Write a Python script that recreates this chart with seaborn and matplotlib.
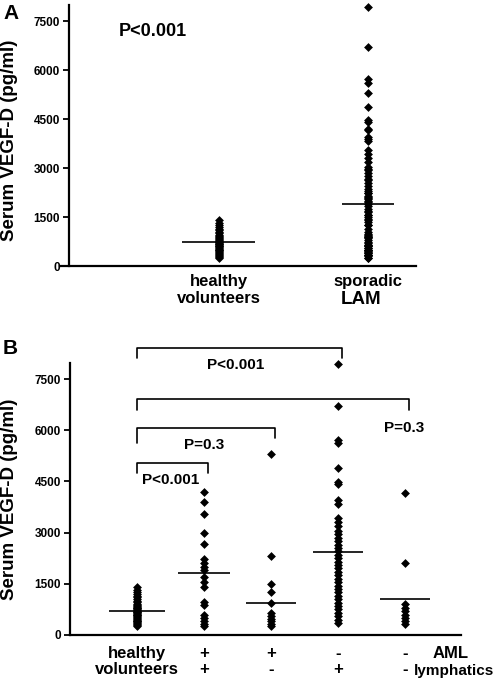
import numpy as np
import pandas as pd
import seaborn as sns
import matplotlib.pyplot as plt
import matplotlib.transforms as mtransforms

# values (pg/ml)
healthy = [1400, 1320, 1260, 1200, 1150, 1100, 1050, 1000, 960, 920, 880, 850,
           820, 800, 780, 750, 730, 700, 680, 660, 640, 620, 600, 580, 550,
           520, 500, 480, 450, 420, 400, 380, 350, 320, 290, 250]
aml_pos_lymph_pos = [4200, 3900, 3560, 2980, 2660, 2230, 2100, 2000, 1900, 1700,
                     1560, 1420, 980, 880, 600, 500, 420, 330, 250]
aml_pos_lymph_neg = [5300, 2300, 1490, 1270, 930, 640, 560, 480, 400, 330, 250]
aml_neg_lymph_pos = [7950, 6700, 5720, 5620, 4880, 4470, 4430, 3950, 3840, 3420,
                     3300, 3200, 3050, 2950, 2850, 2750, 2650, 2550, 2450, 2350,
                     2250, 2150, 2050, 1950, 1850, 1750, 1650, 1550, 1450, 1350,
                     1250, 1150, 1050, 950, 850, 750, 650, 550, 450, 350]
aml_neg_lymph_neg = [4170, 2120, 900, 800, 700, 600, 500, 400, 320]
sporadic_lam = (aml_pos_lymph_pos + aml_pos_lymph_neg
                + aml_neg_lymph_pos + aml_neg_lymph_neg)

means_a = [735, 1900]
means_b = [715, 1810, 930, 2440, 1045]

labels_a = ["healthy\nvolunteers", "sporadic"]
labels_b = ["healthy\nvolunteers", "+\n+", "+\n-", "-\n+", "-\n-"]
yticks = [0, 1500, 3000, 4500, 6000, 7500]


def long_df(groups):
    rows = []
    for key, vals in groups.items():
        for v in vals:
            rows.append({"group": key, "value": v})
    return pd.DataFrame(rows)


df_a = long_df({"healthy": healthy, "lam": sporadic_lam})
df_b = long_df({"healthy": healthy, "pp": aml_pos_lymph_pos,
                "pn": aml_pos_lymph_neg, "np": aml_neg_lymph_pos,
                "nn": aml_neg_lymph_neg})

sns.set_theme(style="ticks")
plt.rcParams['font.family'] = ['Liberation Sans', 'DejaVu Sans']
plt.rcParams['font.weight'] = 'bold'
plt.rcParams['axes.labelweight'] = 'bold'
for key in ['text.color', 'axes.labelcolor', 'xtick.color', 'ytick.color',
            'axes.edgecolor']:
    plt.rcParams[key] = 'black'

fig = plt.figure(figsize=(4.96, 6.83), dpi=100)
ax_a = fig.add_axes([0.1391, 0.6105, 0.6996, 0.3821])
ax_b = fig.add_axes([0.1411, 0.0703, 0.7883, 0.3982])


def dot_panel(ax, df, order, means, half_w, ymax, xlim, pad):
    sns.stripplot(data=df, x="group", y="value", order=order, jitter=False,
                  marker="D", color="black", size=4.5, linewidth=0, ax=ax)
    for c in ax.collections:
        c.set_clip_on(False)
    xs = np.arange(len(means))
    ax.hlines(means, xs - np.array(half_w), xs + np.array(half_w),
              color="black", lw=1.2, zorder=3)
    ax.set_xlim(*xlim)
    ax.set_ylim(0, ymax)
    ax.set_yticks(yticks)
    ax.set_yticklabels([str(t) for t in yticks], fontsize=8.5,
                       fontweight="bold")
    ax.set_ylabel("Serum VEGF-D (pg/ml)", fontsize=13.5, fontweight="bold")
    ax.set_xlabel("")
    for s in ["top", "right"]:
        ax.spines[s].set_visible(False)
    for s in ["left", "bottom"]:
        ax.spines[s].set_linewidth(1.6)
        ax.spines[s].set_color("black")
    ax.tick_params(axis="y", length=4.5, width=1.3, color="black", pad=2,
                   labelcolor="black")
    ax.tick_params(axis="x", length=0, pad=pad, labelcolor="black")


# panel A
dot_panel(ax_a, df_a, ["healthy", "lam"], means_a, [0.245, 0.175],
          8000, (-1.0, 1.32), 6)
ax_a.set_xticks([0, 1])
ax_a.set_xticklabels(labels_a, fontsize=12, fontweight="bold", linespacing=1.1)
ax_a.spines["bottom"].set_bounds(-1.06, 1.32)
ax_a.yaxis.set_label_coords(-0.147, 0.48)
trans_a = mtransforms.blended_transform_factory(ax_a.transData, ax_a.transAxes)
ax_a.text(0.95, -0.13, "LAM", transform=trans_a, ha="center", va="center",
          fontsize=13.5, fontweight="bold")
ax_a.text(-0.44, 7180, "P<0.001", ha="center", va="center", fontsize=13,
          fontweight="bold")

# panel B
dot_panel(ax_b, df_b, ["healthy", "pp", "pn", "np", "nn"], means_b,
          [0.42, 0.39, 0.37, 0.37, 0.37], 7970, (-1.0, 4.84), 8)
ax_b.set_xticks(range(5))
ax_b.set_xticklabels(labels_b, fontsize=12, fontweight="bold", linespacing=1.1)
ax_b.yaxis.set_label_coords(-0.133, 0.5)
xtrans_b = ax_b.get_xaxis_transform()
ax_b.text(4.69, -0.04, "AML", transform=xtrans_b, ha="center", va="top",
          fontsize=12, fontweight="bold")
ax_b.text(4.13, -0.108, "lymphatics", transform=xtrans_b, ha="left", va="top",
          fontsize=11, fontweight="bold")

# comparison brackets: (x0, x1, top, left leg end, right leg end)
brackets = [(0, 3.07, 8410, 8110, 8110),
            (0, 4.07, 6910, 6590, 6590),
            (0, 2.06, 6060, 5625, 5770),
            (0, 1.06, 5040, 4746, 4746)]
for x0, x1, top, l0, l1 in brackets:
    ax_b.plot([x0, x0, x1, x1], [l0, top, top, l1], color="black", lw=1.2,
              clip_on=False)
for x, y, txt in [(1.48, 7910, "P<0.001"), (3.99, 6064, "P=0.3"),
                  (1.0, 5566, "P=0.3"), (0.51, 4541, "P<0.001")]:
    ax_b.text(x, y, txt, ha="center", va="center", fontsize=11,
              fontweight="bold")

fig.text(3 / 496, 1 - 4 / 683, "A", ha="left", va="top", fontsize=15,
         fontweight="bold")
fig.text(3 / 496, 1 - 339 / 683, "B", ha="left", va="top", fontsize=15,
         fontweight="bold")

fig.savefig("out.png", dpi=100)
